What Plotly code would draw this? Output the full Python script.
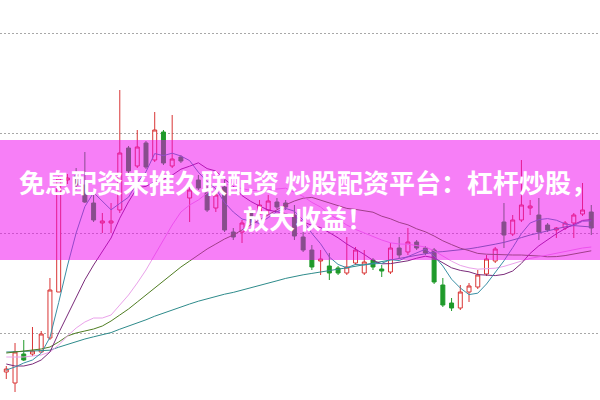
import plotly.graph_objects as go

# candle index (one trading day per step)
days = list(range(68))

opens = [13.05, 12.5, 13.95, 13.95, 14.05, 14.75, 17.05, 22.65, 22.85, 22.4,
         21.5, 20.5, 20.5, 21.15, 24.25, 23.35, 24.5, 23.65, 25.05, 23.35,
         23.8, 21.75, 22.65, 22.0, 21.25, 22.3, 20.05, 20.05, 21.0, 20.95,
         21.15, 21.55, 21.5, 20.9, 19.8, 19.15, 18.6, 18.35, 18.25, 18.0,
         18.5, 18.0, 18.65, 18.2, 18.05, 19.25, 19.05, 19.55, 19.25, 19.15,
         17.4, 16.5, 16.25, 17.05, 17.3, 17.95, 18.6, 20.55, 19.95, 20.65,
         21.25, 20.9, 20.4, 20.15, 20.25, 20.5, 20.95, 21.05]
highs = [13.35, 14.5, 14.65, 15.3, 15.1, 17.75, 22.85, 22.95, 23.25, 24.05,
         22.0, 21.0, 21.5, 27.15, 24.35, 25.15, 24.6, 26.05, 25.15, 25.9,
         23.9, 22.65, 22.9, 22.35, 22.25, 22.65, 20.25, 20.65, 21.25, 21.65,
         21.9, 21.75, 21.65, 21.4, 20.05, 19.4, 19.15, 19.0, 18.35, 19.8,
         19.3, 19.15, 18.75, 18.4, 19.5, 19.8, 20.25, 19.65, 19.35, 19.25,
         17.75, 16.75, 17.4, 17.5, 18.15, 18.9, 19.3, 21.5, 20.9, 23.65,
         21.65, 21.75, 20.5, 20.3, 20.6, 21.0, 22.5, 21.4]
lows = [12.7, 12.05, 13.6, 13.85, 14.0, 14.65, 17.05, 22.45, 22.15, 21.5,
        20.55, 20.0, 20.0, 21.0, 23.0, 23.25, 23.2, 23.55, 23.4, 23.25,
        23.5, 20.55, 22.15, 21.05, 21.05, 20.05, 19.65, 19.5, 20.4, 20.75,
        20.95, 21.2, 21.15, 19.65, 19.05, 18.15, 17.9, 17.65, 17.9, 17.9,
        18.4, 17.9, 18.15, 17.8, 17.95, 18.75, 18.9, 19.15, 18.9, 17.45,
        16.3, 16.1, 16.15, 16.55, 17.2, 17.85, 18.5, 19.25, 19.85, 20.55,
        20.9, 19.65, 20.05, 19.75, 20.15, 19.75, 20.85, 19.9]
closes = [13.2, 14.05, 13.65, 14.1, 14.95, 17.15, 22.75, 22.75, 22.4, 21.55,
          20.65, 20.6, 20.6, 24.0, 23.1, 24.3, 23.3, 25.15, 23.5, 23.7,
          23.6, 22.15, 22.25, 21.15, 21.9, 20.15, 19.8, 20.5, 20.55, 21.4,
          21.6, 21.3, 21.3, 19.85, 19.15, 18.3, 18.7, 18.0, 18.0, 18.3,
          19.15, 18.55, 18.3, 18.1, 19.25, 18.9, 19.55, 19.25, 19.0, 17.55,
          16.4, 16.25, 17.05, 17.35, 17.9, 18.7, 19.2, 19.9, 20.65, 21.4,
          21.35, 20.05, 20.15, 20.25, 20.5, 20.9, 21.15, 20.25]

ma5 = [13.15, 13.3, 13.5, 13.65, 13.99, 14.78, 16.52, 18.35, 20.0, 21.32,
       22.02, 21.59, 21.16, 21.48, 21.79, 22.52, 23.06, 23.97, 23.87, 23.99,
       23.85, 23.62, 23.04, 22.57, 22.21, 21.52, 21.05, 20.7, 20.58, 20.48,
       20.77, 21.07, 21.23, 21.09, 20.64, 19.98, 19.46, 18.8, 18.43, 18.26,
       18.43, 18.4, 18.46, 18.48, 18.67, 18.62, 18.82, 19.01, 19.19, 18.85,
       18.35, 17.69, 17.25, 16.92, 16.99, 17.45, 18.04, 18.61, 19.27, 19.97,
       20.5, 20.67, 20.72, 20.64, 20.46, 20.37, 20.59, 20.61]
ma10 = [13.45, 13.35, 13.35, 13.45, 13.65, 14.05, 15.0, 15.9, 16.8, 17.66,
        18.4, 19.06, 19.75, 20.74, 21.56, 22.27, 22.33, 22.57, 22.68, 22.89,
        23.19, 23.34, 23.51, 23.22, 23.1, 22.69, 22.34, 21.87, 21.58, 21.35,
        21.15, 21.06, 20.97, 20.84, 20.56, 20.38, 20.27, 20.02, 19.76, 19.45,
        19.21, 18.93, 18.63, 18.46, 18.47, 18.53, 18.61, 18.74, 18.84, 18.76,
        18.49, 18.26, 18.13, 18.06, 17.92, 17.9, 17.87, 17.93, 18.1, 18.48,
        18.98, 19.36, 19.67, 19.96, 20.22, 20.44, 20.63, 20.67]
ma20 = [13.8, 13.8, 13.8, 13.85, 13.9, 14.05, 14.4, 14.85, 15.25, 15.55,
        15.75, 15.75, 15.9, 16.4, 16.9, 17.5, 18.15, 18.9, 19.65, 20.4,
        21.05, 21.4, 21.65, 21.98, 22.33, 22.48, 22.33, 22.22, 22.13, 22.12,
        22.17, 22.2, 22.24, 22.03, 21.83, 21.53, 21.3, 20.94, 20.67, 20.4,
        20.18, 20.0, 19.8, 19.65, 19.51, 19.45, 19.44, 19.38, 19.3, 19.11,
        18.85, 18.59, 18.38, 18.26, 18.19, 18.21, 18.24, 18.33, 18.47, 18.62,
        18.73, 18.81, 18.9, 19.01, 19.07, 19.17, 19.25, 19.3]
ma30 = [14.0, 14.05, 14.1, 14.15, 14.2, 14.3, 14.55, 14.85, 15.0, 15.1,
        15.2, 15.35, 15.6, 15.9, 16.2, 16.55, 16.9, 17.25, 17.6, 17.95,
        18.3, 18.6, 18.9, 19.2, 19.45, 19.7, 19.9, 20.15, 20.4, 20.63,
        20.91, 21.15, 21.41, 21.6, 21.74, 21.78, 21.64, 21.49, 21.34, 21.23,
        21.18, 21.11, 21.04, 20.84, 20.71, 20.53, 20.41, 20.21, 20.06, 19.85,
        19.61, 19.42, 19.24, 19.12, 18.98, 18.94, 18.92, 18.9, 18.9, 18.9,
        18.89, 18.85, 18.81, 18.82, 18.87, 18.96, 19.04, 19.11]
ma60 = [14.05, 14.05, 14.08, 14.1, 14.13, 14.14, 14.29, 14.43, 14.57, 14.7,
        14.81, 14.91, 15.02, 15.19, 15.34, 15.51, 15.66, 15.84, 16.0, 16.16,
        16.32, 16.45, 16.59, 16.71, 16.84, 16.94, 17.03, 17.14, 17.25, 17.37,
        17.49, 17.61, 17.73, 17.83, 17.91, 17.98, 18.06, 18.12, 18.19, 18.26,
        18.34, 18.42, 18.49, 18.55, 18.64, 18.72, 18.81, 18.9, 18.98, 19.04,
        19.07, 19.11, 19.16, 19.21, 19.28, 19.35, 19.44, 19.53, 19.64, 19.77,
        19.9, 20.0, 20.11, 20.21, 20.31, 20.37, 20.34, 20.3]

grid_prices = [15, 20, 25, 30]

title_line1 = "免息配资来推久联配资 炒股配资平台：杠杆炒股，"
title_line2 = "放大收益！"

fig = go.Figure()

ma_specs = [
    (ma60, "#2e8b8b"),
    (ma30, "#4f7d22"),
    (ma20, "#eaa2ea"),
    (ma10, "#7a2a7a"),
    (ma5, "#3a8fa5"),
]
for vals, col in ma_specs:
    fig.add_trace(go.Scatter(x=days, y=vals, mode="lines",
                             line=dict(color=col, width=1), hoverinfo="skip",
                             showlegend=False))

fig.add_trace(go.Candlestick(
    x=days, open=opens, high=highs, low=lows, close=closes,
    increasing=dict(line=dict(color="#d93535", width=1), fillcolor="#ffffff"),
    decreasing=dict(line=dict(color="#1f9a2a", width=1), fillcolor="#1f9a2a"),
    whiskerwidth=0, showlegend=False,
))

fig.add_shape(type="rect", xref="paper", yref="paper", x0=0, x1=1, y0=0.35, y1=0.65,
              fillcolor="rgba(240,0,240,0.5)", line=dict(width=0), layer="above")

fig.add_annotation(text=title_line1, xref="paper", yref="paper", x=0.513, y=0.5475,
                   showarrow=False, xanchor="center", yanchor="middle",
                   font=dict(family="Noto Sans CJK SC", size=26, color="white", weight="bold"))
fig.add_annotation(text=title_line2, xref="paper", yref="paper", x=0.513, y=0.455,
                   showarrow=False, xanchor="center", yanchor="middle",
                   font=dict(family="Noto Sans CJK SC", size=26, color="white", weight="bold"))

fig.update_layout(
    width=600, height=400, margin=dict(l=0, r=0, t=0, b=0),
    paper_bgcolor="white", plot_bgcolor="white", boxgap=0.35,
    xaxis=dict(range=[-0.72, 68.0], showgrid=False, zeroline=False, showticklabels=False,
               rangeslider=dict(visible=False), showline=False, ticks=""),
    yaxis=dict(range=[11.65, 31.65], tickvals=grid_prices, showticklabels=False,
               showgrid=True, gridcolor="#a8a8a8", griddash="2px,2px", gridwidth=1,
               zeroline=False, showline=False, ticks=""),
)

fig.write_html("out.html", config={"displayModeBar": False},
               post_script="document.body.style.margin='0';document.body.style.overflow='hidden';")
